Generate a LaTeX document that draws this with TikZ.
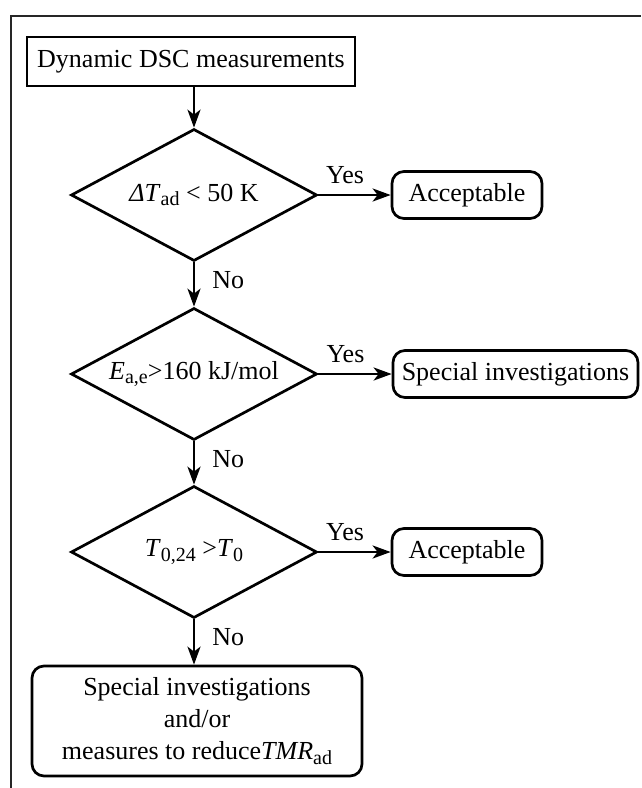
\documentclass[tikz,border=0pt]{standalone}
\usepackage{fontspec}
\setmainfont{Liberation Serif}
\usetikzlibrary{shapes.geometric,arrows.meta}

% lowered, smaller index text (subscripts set in text)
\newcommand\lowidx[1]{\raisebox{-0.16em}{\fontsize{20}{20}\selectfont #1}}

\begin{document}
\begin{tikzpicture}[x=1pt,y=-1pt,
  every node/.style={font=\fontsize{26}{32}\selectfont},
  plainbox/.style={draw, line width=2.7pt, rectangle, inner sep=0pt},
  endbox/.style={draw, line width=2.7pt, rectangle, rounded corners=12pt,
    inner sep=0pt, minimum height=47pt},
  decision/.style={draw, line width=2.7pt, diamond, inner sep=0pt,
    shape aspect=1.86, minimum width=246pt, minimum height=132pt},
  flow/.style={line width=2.7pt, -{Stealth[length=18pt,width=13pt,inset=5pt]}},
  yeslbl/.style={above=10pt, pos=0.37, inner sep=0pt},
  nolbl/.style={right=17pt, pos=0.4, inner sep=0pt},
  frameline/.style={line width=1.6pt, black!85}]

\useasboundingbox (0,0) rectangle (641,788);

% outer frame (top and left edges)
\draw[frameline] (11,788) -- (11,16) -- (641,16);

% nodes
\node[plainbox, minimum width=328pt, minimum height=49pt] (dsc) at (191,61.5)
  {Dynamic DSC measurements};
\node[decision] (d1) at (194,195) {\textit{Δ}\textit{T}\lowidx{ad} < 50 K};
\node[endbox, minimum width=150pt] (acc1) at (467,195) {Acceptable};
\node[decision] (d2) at (194,374) {\textit{E}\lowidx{a,e}>160 kJ/mol};
\node[endbox, minimum width=245pt] (spec) at (515.5,374) {Special investigations};
\node[decision] (d3) at (194,552) {\textit{T}\lowidx{0,24} >\textit{T}\lowidx{0}};
\node[endbox, minimum width=150pt] (acc2) at (467,552) {Acceptable};
\node[endbox, minimum width=330pt, minimum height=110pt, align=center] (final) at (197,721)
  {Special investigations\\and/or\\measures to reduce\textit{TMR}\lowidx{ad}};

% connectors
\draw[flow] (dsc.south -| d1.north) -- (d1.north);
\draw[flow] (d1.east) -- node[yeslbl] (y1) {Yes} (acc1.west);
\draw[flow] (d1.south) -- node[nolbl] (n1) {No} (d2.north);
\draw[flow] (d2.east) -- node[yeslbl] (y2) {Yes} (spec.west);
\draw[flow] (d2.south) -- node[nolbl] (n2) {No} (d3.north);
\draw[flow] (d3.east) -- node[yeslbl] (y3) {Yes} (acc2.west);
\draw[flow] (d3.south) -- node[nolbl] (n3) {No} (d3.south |- final.north);

\end{tikzpicture}
\end{document}
